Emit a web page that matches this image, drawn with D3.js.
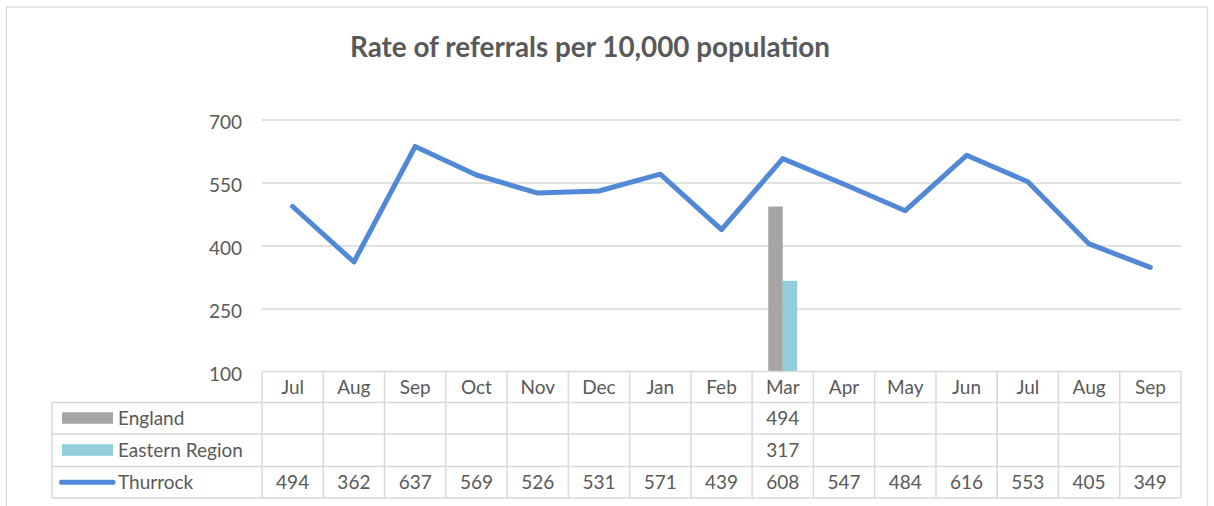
<!DOCTYPE html>
<html><head><meta charset="utf-8">
<script src="https://cdn.jsdelivr.net/npm/d3@7"></script>
<style>html,body{margin:0;padding:0;background:#fff;}svg{display:block;}</style>
</head><body>
<svg id="chart" width="1214" height="506"></svg>
<script>
const months = ["Jul","Aug","Sep","Oct","Nov","Dec","Jan","Feb","Mar","Apr","May","Jun","Jul","Aug","Sep"];
const thurrock = [494,362,637,569,526,531,571,439,608,547,484,616,553,405,349];
const england = [null,null,null,null,null,null,null,null,494,null,null,null,null,null,null];
const eastern = [null,null,null,null,null,null,null,null,317,null,null,null,null,null,null];
const yTicks = [100,250,400,550,700];
const title = "Rate of referrals per 10,000 population";

const txt = "#595959", grid = "#d9d9d9";
const font = "Lato, 'Open Sans', 'Liberation Sans', sans-serif";
const fs = 19;
const svg = d3.select("#chart");

// outer border
svg.append("rect").attr("x",6.5).attr("y",7).attr("width",1201).attr("height",510)
  .attr("fill","#fff").attr("stroke",grid).attr("stroke-width",1.3);

svg.append("text").attr("x",590).attr("y",57).attr("text-anchor","middle")
  .attr("font-family",font).attr("font-weight","bold").attr("font-size",28.5)
  .attr("fill",txt).attr("textLength",480).attr("lengthAdjust","spacingAndGlyphs").text(title);

const x0 = 262, x1 = 1181;
const x = d3.scaleBand().domain(d3.range(months.length)).range([x0,x1]).paddingInner(0).paddingOuter(0);
const y = d3.scaleLinear().domain([100,700]).range([372,120]);

// gridlines
svg.append("g").selectAll("line").data(yTicks.slice(1)).join("line")
  .attr("x1",x0).attr("x2",x1).attr("y1",d=>y(d)).attr("y2",d=>y(d))
  .attr("stroke",grid).attr("stroke-width",1.3);

// y axis labels
const yAxis = d3.axisLeft(y).tickValues(yTicks).tickSize(0).tickPadding(0);
const gy = svg.append("g").attr("transform",`translate(242,2)`).call(yAxis);
gy.select(".domain").remove();
gy.selectAll("text").attr("font-family",font).attr("font-size",fs).attr("fill",txt).attr("dy","0.35em");

// bars
const bw = 14.5;
const cx = i => x(i) + x.bandwidth()/2;
svg.append("g").selectAll("rect").data(england.map((v,i)=>({v,i})).filter(d=>d.v!=null)).join("rect")
  .attr("x",d=>cx(d.i)-bw).attr("width",bw).attr("y",d=>y(d.v)).attr("height",d=>y(100)-y(d.v)).attr("fill","#a5a5a5");
svg.append("g").selectAll("rect").data(eastern.map((v,i)=>({v,i})).filter(d=>d.v!=null)).join("rect")
  .attr("x",d=>cx(d.i)).attr("width",bw).attr("y",d=>y(d.v)).attr("height",d=>y(100)-y(d.v)).attr("fill","#92cddc");

// line
const lineColor = "#5289d6";
svg.append("path").datum(thurrock).attr("fill","none").attr("stroke",lineColor).attr("stroke-width",5)
  .attr("stroke-linejoin","round").attr("stroke-linecap","round")
  .attr("d",d3.line().x((d,i)=>cx(i)).y(d=>y(d)));

// data table
const rows = [371.5, 402.5, 434, 466.5, 498];
const lx = 52;
const tg = svg.append("g").attr("stroke",grid).attr("stroke-width",1.5);
tg.append("line").attr("x1",x0).attr("x2",x1).attr("y1",rows[0]).attr("y2",rows[0]);
rows.slice(1).forEach(r=>tg.append("line").attr("x1",lx).attr("x2",x1).attr("y1",r).attr("y2",r));
tg.append("line").attr("x1",lx).attr("x2",lx).attr("y1",rows[1]).attr("y2",rows[4]);
d3.range(months.length+1).forEach(i=>{
  const xx = i<months.length ? x(i) : x1;
  tg.append("line").attr("x1",xx).attr("x2",xx).attr("y1",rows[0]).attr("y2",rows[4]);
});

const tt = svg.append("g").attr("font-family",font).attr("font-size",fs).attr("fill",txt).attr("text-anchor","middle");
months.forEach((m,i)=>tt.append("text").attr("x",cx(i)).attr("y",(rows[0]+rows[1])/2).attr("dy","0.35em").text(m));
const series = [england, eastern, thurrock];
series.forEach((s,r)=>{
  s.forEach((v,i)=>{ if(v!=null) tt.append("text").attr("x",cx(i)).attr("y",(rows[r+1]+rows[r+2])/2).attr("dy","0.35em").text(v); });
});

// legend keys
const names = ["England","Eastern Region","Thurrock"];
const lg = svg.append("g");
lg.append("rect").attr("x",62).attr("y",(rows[1]+rows[2])/2-6).attr("width",51).attr("height",11.5).attr("fill","#a5a5a5");
lg.append("rect").attr("x",62).attr("y",(rows[2]+rows[3])/2-6).attr("width",51).attr("height",11.5).attr("fill","#92cddc");
lg.append("line").attr("x1",61.5).attr("x2",113).attr("y1",(rows[3]+rows[4])/2).attr("y2",(rows[3]+rows[4])/2)
  .attr("stroke",lineColor).attr("stroke-width",5).attr("stroke-linecap","round");
names.forEach((n,r)=>lg.append("text").attr("x",118).attr("y",(rows[r+1]+rows[r+2])/2).attr("dy","0.35em")
  .attr("font-family",font).attr("font-size",fs).attr("fill",txt).text(n));
</script>
</body></html>
